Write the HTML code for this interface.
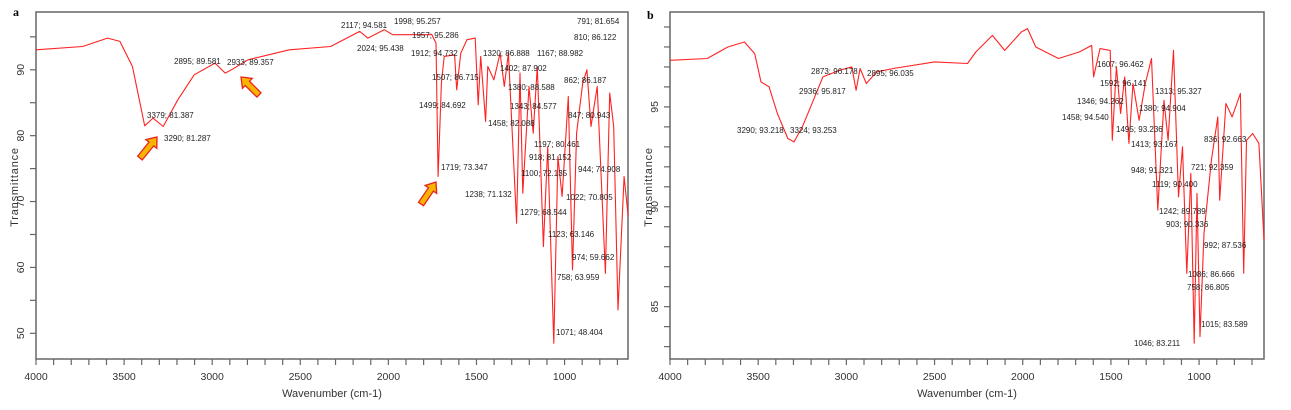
<!DOCTYPE html>
<html><head><meta charset="utf-8">
<style>
html,body{margin:0;padding:0;background:#fff;}
svg{display:block;font-family:"Liberation Sans",sans-serif;}
</style></head>
<body>
<svg id="chart" width="1291" height="410" viewBox="0 0 1291 410">
<text x="13" y="16" font-family="Liberation Serif" font-weight="bold" font-size="12">a</text>
<text x="647" y="19" font-family="Liberation Serif" font-weight="bold" font-size="12">b</text>
<g id="arrows"></g>
</svg>
<script>
// Panel A data
const aWn = [4000,3735,3594,3524,3453,3383,3336,3278,3195,3102,2984,2926,2891,2797,2562,2328,2163,2116,2023,1976,1753,1730,1718,1699,1683,1624,1612,1589,1554,1507,1490,1476,1448,1436,1401,1366,1342,1319,1272,1253,1237,1202,1178,1155,1120,1096,1061,1038,1014,979,955,932,897,873,850,815,768,744,721,697,662,639];
const aT = [93.04,93.54,94.81,94.3,90.51,81.49,82.66,81.39,85.44,89.24,91.01,89.49,90,91.52,93.04,93.54,95.82,94.81,96.08,95.32,95.32,94.05,73.8,87.97,92.03,92.28,86.96,92.53,94.56,94.81,84.68,92.03,82.15,90.51,88.48,92.53,87.47,92.53,66.71,89.49,71.27,87.47,80.38,90.51,63.16,78.35,48.48,76.84,70.76,85.95,59.62,80.38,87.97,90,81.39,87.47,59.11,86.46,81.39,53.54,73.8,67.72];
const aXTicks = [4000,3500,3000,2500,2000,1500,1000];
const aYTicks = [50,60,70,80,90];
const aLabels = ["2117; 94.581","1998; 95.257","791; 81.654","1957; 95.286","810; 86.122","2024; 95.438","1912; 94.732","1320; 86.888","1167; 88.982","2895; 89.581","2933; 89.357","1402; 87.902","1507; 86.715","862; 86.187","1380; 88.588","1499; 84.692","1343; 84.577","3379; 81.387","847; 80.943","1458; 82.088","3290; 81.287","1197; 80.461","918; 81.152","1719; 73.347","1100; 72.135","944; 74.908","1238; 71.132","1022; 70.805","1279; 68.544","1123; 63.146","974; 59.662","758; 63.959","1071; 48.404"];
const aLabelPos = [[341,25],[394,21],[577,21],[412,35],[574,37],[357,48],[411,53],[483,53],[537,53],[174,61],[227,62],[500,68],[432,77],[564,80],[508,87],[419,105],[510,106],[147,115],[568,115],[488,123],[164,138],[534,144],[529,157],[441,167],[521,173],[578,169],[465,194],[566,197],[520,212],[548,234],[572,257],[557,277],[556,332]];
// Panel B data
const bWn = [4000,3789,3672,3578,3520,3484,3438,3391,3332,3297,3250,3203,3133,3039,2969,2945,2922,2887,2828,2734,2500,2313,2266,2172,2102,2008,1973,1926,1797,1680,1609,1598,1562,1504,1492,1469,1445,1422,1398,1375,1340,1305,1270,1234,1199,1176,1145,1117,1094,1070,1047,1028,1012,995,972,930,894,883,848,813,766,747,731,696,661,632];
const bT = [97.33,97.42,98.0,98.25,97.67,96.25,96.0,94.67,93.42,93.25,94.0,95.0,96.5,96.83,97.0,95.83,96.92,96.17,96.75,96.92,97.25,97.17,97.75,98.58,97.83,98.75,98.92,98.0,97.42,97.75,98.08,96.5,97.92,97.83,93.33,97.0,94.67,96.5,93.17,96.17,94.33,96.17,97.42,89.83,95.33,93.33,97.83,90.5,93.0,86.67,91.67,83.17,90.67,83.5,88.67,92.33,94.5,90.33,95.17,94.5,95.67,86.67,93.33,93.67,93.17,88.33];
const bXTicks = [4000,3500,3000,2500,2000,1500,1000];
const bYTicks = [85,90,95];
const bLabels = ["2873; 96.178","2895; 96.035","2936; 95.817","1607; 96.462","1592; 96.141","1313; 95.327","1346; 94.262","1380; 94.904","1458; 94.540","1495; 93.236","3290; 93.218","3324; 93.253","1413; 93.167","836; 92.663","948; 91.321","721; 92.359","1119; 90.400","1242; 89.789","903; 90.336","992; 87.536","1086; 86.666","758; 86.805","1015; 83.589","1046; 83.211"];
const bLabelPos = [[811,71],[867,73],[799,91],[1097,64],[1100,83],[1155,91],[1077,101],[1139,108],[1062,117],[1116,129],[737,130],[790,130],[1131,144],[1204,139],[1131,170],[1191,167],[1152,184],[1159,211],[1166,224],[1204,245],[1188,274],[1187,287],[1201,324],[1134,343]];

const NS = "http://www.w3.org/2000/svg";
const svg = document.getElementById('chart');
function mk(tag, attrs, parent){
  const e = document.createElementNS(NS, tag);
  for (const k in attrs) e.setAttribute(k, attrs[k]);
  (parent||svg).appendChild(e);
  return e;
}

function panel(id, box, xDom, yDom, wn, tr, xTicks, xMinorStep, yTicks, yMinorStep, labels, labelPos, ytDx){
  const g = mk('g', {});
  
  
  const xs = v => box.x0 + (xDom[0]-v)/(xDom[0]-xDom[1])*(box.x1-box.x0);
  const ys = v => box.y1 - (v-yDom[0])/(yDom[1]-yDom[0])*(box.y1-box.y0);
  const frame = mk('rect', {x:box.x0, y:box.y0, width:box.x1-box.x0, height:box.y1-box.y0, fill:'none', stroke:'#666', 'stroke-width':1.5}, g);
  
  
  // x ticks
  for (let v = xDom[0]; v >= xDom[1]; v -= xMinorStep){
    const t = mk('line', {x1:xs(v), x2:xs(v), y1:box.y1, y2:box.y1+6, stroke:'#666', 'stroke-width':1.2}, g);
    
    
  }
  xTicks.forEach(v => {
    const t = mk('text', {x:xs(v), y:box.y1+21, 'text-anchor':'middle', 'font-size':10.5, fill:'#333'}, g);
    t.textContent = v;
    
    
  });
  // y ticks
  const yStart = Math.ceil(yDom[0]/yMinorStep)*yMinorStep;
  for (let v = yStart; v <= yDom[1]; v += yMinorStep){
    const t = mk('line', {x1:box.x0-6, x2:box.x0, y1:ys(v), y2:ys(v), stroke:'#666', 'stroke-width':1.2}, g);
    
    
  }
  yTicks.forEach(v => {
    const cx = box.x0 - ytDx, cy = ys(v);
    const t = mk('text', {x:cx, y:cy, 'text-anchor':'middle', 'font-size':10.5, fill:'#333', transform:`rotate(-90 ${cx} ${cy})`}, g);
    t.textContent = v;
    
    
  });
  const xt = mk('text', {x:(box.x0+box.x1)/2, y:397, 'text-anchor':'middle', 'font-size':11, fill:'#333'}, g);
  xt.textContent = 'Wavenumber (cm-1)';
  
  
  const tx = box.x0 - 18, ty = 187;
  const yt = mk('text', {x:tx, y:ty, 'text-anchor':'middle', 'font-size':11, fill:'#333', 'letter-spacing':0.8, transform:`rotate(-90 ${tx} ${ty})`}, g);
  yt.textContent = 'Transmittance';
  
  
  // spectrum
  const d = wn.map((w,i) => (i?'L':'M') + xs(w).toFixed(1) + ',' + ys(tr[i]).toFixed(1)).join('');
  const p = mk('path', {d:d, fill:'none', stroke:'#f22', 'stroke-width':1.1, 'stroke-linejoin':'round'}, g);
  
  
  // peak labels
  labels.forEach((s,i) => {
    const t = mk('text', {x:labelPos[i][0], y:labelPos[i][1]+3, 'font-size':8, fill:'#222'}, g);
    t.textContent = s;
    
    
  });
}

panel('panel-a', {x0:36, x1:628, y0:12, y1:359}, [4000,640], [46.1,98.77], aWn, aT, aXTicks, 100, aYTicks, 5, aLabels, aLabelPos, 12);
panel('panel-b', {x0:670, x1:1264, y0:12, y1:359}, [4000,632], [82.38,99.75], bWn, bT, bXTicks, 100, bYTicks, 1, bLabels, bLabelPos, 12);

// arrows in panel a
const ag = document.getElementById('arrows');
svg.appendChild(ag);
[[140,158,157,137],[259,95,241,77],[421,204,436,182]].forEach(a => {
  const [x0,y0,x1,y1] = a;
  const dx = x1-x0, dy = y1-y0, L = Math.hypot(dx,dy), ux = dx/L, uy = dy/L, nx = -uy, ny = ux;
  const hb = L-9, w = 3, hw = 7;
  const pts = [
    [x0+nx*w, y0+ny*w],[x0+ux*hb+nx*w, y0+uy*hb+ny*w],[x0+ux*hb+nx*hw, y0+uy*hb+ny*hw],[x1,y1],
    [x0+ux*hb-nx*hw, y0+uy*hb-ny*hw],[x0+ux*hb-nx*w, y0+uy*hb-ny*w],[x0-nx*w, y0-ny*w]
  ].map(q => q[0].toFixed(1)+','+q[1].toFixed(1)).join(' ');
  const p = mk('polygon', {points:pts, fill:'#f7b500', stroke:'#e8231f', 'stroke-width':1.3}, ag);
  
  
});
</script>
</body></html>
